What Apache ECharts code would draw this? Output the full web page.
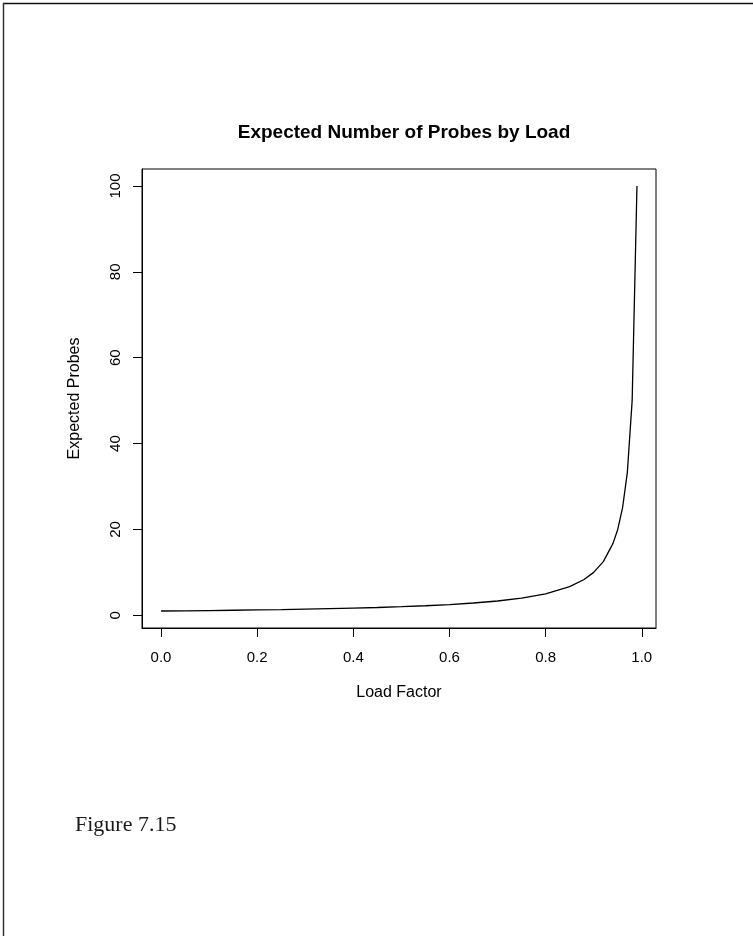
<!DOCTYPE html>
<html>
<head>
<meta charset="utf-8">
<title>Expected Number of Probes by Load</title>
<script src="https://cdn.jsdelivr.net/npm/echarts@6/dist/echarts.min.js"></script>
<style>
  html, body { margin: 0; padding: 0; background: #ffffff; }
  #chart { width: 753px; height: 936px; }
</style>
</head>
<body>
<div id="chart"></div>
<script>
// load factor (x) and expected probes (y)
const loadFactor = [0, 0.05, 0.1, 0.15, 0.2, 0.25, 0.3, 0.35, 0.4, 0.45, 0.5, 0.55, 0.6, 0.65,
  0.7, 0.75, 0.8, 0.85, 0.88, 0.9, 0.92, 0.94, 0.95, 0.96, 0.97, 0.98, 0.99]
const expectedProbes = [1, 1.05, 1.11, 1.18, 1.25, 1.33, 1.43, 1.54, 1.67, 1.82, 2, 2.22, 2.5, 2.86,
  3.33, 4, 5, 6.67, 8.33, 10, 12.5, 16.7, 20, 25, 33.3, 50, 100]
const xTicks = [0, 0.2, 0.4, 0.6, 0.8, 1.0]
const yTicks = [0, 20, 40, 60, 80, 100]

const chart = echarts.init(document.getElementById('chart'))

const options = {
  backgroundColor: '#ffffff',
  animation: false,
  textStyle: {
    fontFamily: 'Liberation Sans, Arial, sans-serif'
  },
  title: [
    {
      text: 'Expected Number of Probes by Load',
      left: 399,
      top: 118,
      textAlign: 'center',
      textStyle: {
        fontSize: 19,
        fontWeight: 'bold',
        color: '#000000'
      }
    },
    {
      text: 'Figure 7.15',
      left: 70,
      top: 809,
      textStyle: {
        fontFamily: 'Liberation Serif, serif',
        fontSize: 22,
        fontWeight: 'normal',
        color: '#1a1a1a'
      }
    }
  ],
  grid: {
    left: 142,
    top: 169,
    width: 514,
    height: 459,
    show: true,
    borderColor: '#000000',
    borderWidth: 1,
    backgroundColor: 'transparent'
  },
  xAxis: {
    type: 'value',
    min: -0.0396,
    max: 1.0296,
    name: 'Load Factor',
    nameLocation: 'middle',
    nameGap: 57,
    nameTextStyle: {
      fontSize: 16,
      color: '#000000'
    },
    axisLine: {
      show: true,
      onZero: false,
      lineStyle: { color: '#000000', width: 1 }
    },
    axisTick: {
      show: true,
      inside: false,
      length: 9,
      customValues: xTicks,
      lineStyle: { color: '#000000', width: 1 }
    },
    axisLabel: {
      customValues: xTicks,
      margin: 22,
      fontSize: 15,
      color: '#000000',
      formatter: function (value) {
        return value.toFixed(1)
      }
    },
    splitLine: { show: false }
  },
  yAxis: {
    type: 'value',
    min: -2.96,
    max: 103.96,
    name: 'Expected Probes',
    nameLocation: 'middle',
    nameRotate: 90,
    nameGap: 59,
    nameTextStyle: {
      fontSize: 16,
      color: '#000000'
    },
    axisLine: {
      show: true,
      onZero: false,
      lineStyle: { color: '#000000', width: 1 }
    },
    axisTick: {
      show: true,
      inside: false,
      length: 9,
      customValues: yTicks,
      lineStyle: { color: '#000000', width: 1 }
    },
    axisLabel: {
      customValues: yTicks,
      rotate: 90,
      margin: 19,
      fontSize: 15,
      color: '#000000'
    },
    splitLine: { show: false }
  },
  graphic: [
    // page frame, top and left edges only
    {
      type: 'line',
      shape: { x1: 3, y1: 3.5, x2: 753, y2: 3.5 },
      style: { stroke: '#111111', lineWidth: 1.5 }
    },
    {
      type: 'line',
      shape: { x1: 3.5, y1: 3, x2: 3.5, y2: 936 },
      style: { stroke: '#333333', lineWidth: 1.5 }
    }
  ],
  series: [
    {
      type: 'line',
      symbol: 'none',
      smooth: false,
      lineStyle: { color: '#000000', width: 1.3 },
      data: loadFactor.map(function (x, i) { return [x, expectedProbes[i]] })
    }
  ]
}

chart.setOption(options)
</script>
</body>
</html>
